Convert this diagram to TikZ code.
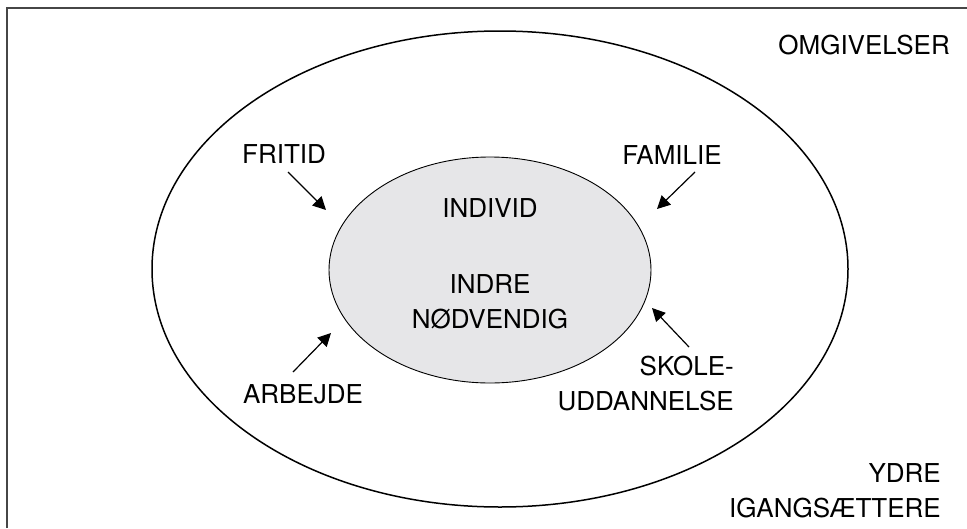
\documentclass[tikz,border=0pt]{standalone}
\usepackage{fontspec}
\setmainfont{TeX Gyre Heros}
\usetikzlibrary{arrows.meta,shapes.geometric}
\definecolor{innerfill}{RGB}{230,230,232}
\definecolor{framegray}{RGB}{70,70,70}
\begin{document}
\begin{tikzpicture}[x=1pt,y=-1pt,
  lbl/.style={font=\fontsize{26}{35}\selectfont, inner sep=0pt},
  arr/.style={-{Triangle[length=13pt,width=13pt]}, line width=1.2pt},
  outerell/.style={line width=1.5pt},
  innerell/.style={ellipse, draw, line width=0.9pt, fill=innerfill, inner sep=0pt}]
\useasboundingbox (0,0) rectangle (967,528);
% frame (only top and left edges visible)
\coordinate (fbl) at (7,528);
\coordinate (ftl) at (7,8);
\coordinate (ftr) at (967,8);
\draw[line width=1.6pt, framegray] (fbl) -- (ftl) -- (ftr);
% outer ellipse
\draw[outerell] (500,269) ellipse [x radius=348, y radius=238];
% inner ellipse
\node[innerell, minimum width=322pt, minimum height=226pt] (ind) at (490,270) {};
\node[lbl] (individ) at (490,208) {INDIVID};
\node[lbl, align=center] (indre) at (490,302) {INDRE\\NØDVENDIG};
% labels
\node[lbl] (omg) [anchor=east] at (950,45) {OMGIVELSER};
\node[lbl] (fritid) at (284,154) {FRITID};
\node[lbl] (familie) at (672,155) {FAMILIE};
\node[lbl] (arbejde) at (303,394) {ARBEJDE};
\node[lbl, align=right, anchor=east] (skole) at (734,384) {SKOLE-\\UDDANNELSE};
\node[lbl, align=right, anchor=east] (ydre) at (941,491) {YDRE\\IGANGSÆTTERE};
% arrows
\coordinate (fs) at (288,172); \coordinate (ft) at (326,210);
\coordinate (as) at (695,172); \coordinate (at) at (657,209);
\coordinate (bs) at (293,372); \coordinate (bt) at (331,333);
\coordinate (ss) at (689,347); \coordinate (st) at (652,308);
\draw[arr] (fs) -- (ft);
\draw[arr] (as) -- (at);
\draw[arr] (bs) -- (bt);
\draw[arr] (ss) -- (st);
\end{tikzpicture}
\end{document}
